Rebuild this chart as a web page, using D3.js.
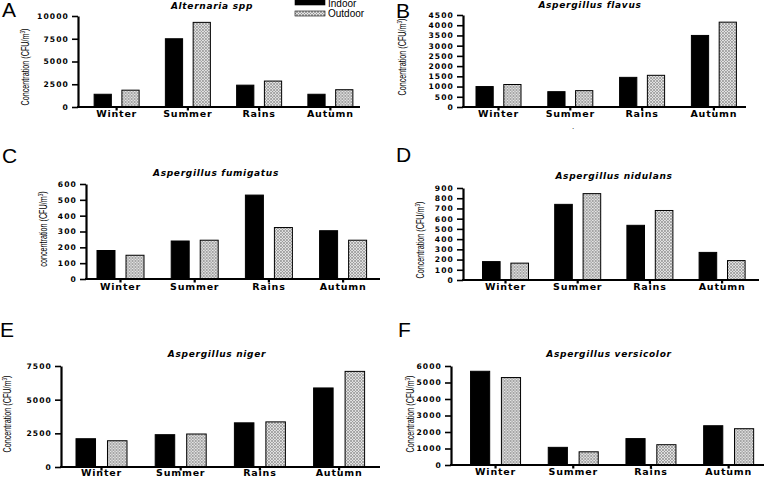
<!DOCTYPE html>
<html><head><meta charset="utf-8">
<script src="https://cdn.jsdelivr.net/npm/d3@7"></script>
<style>
html,body{margin:0;padding:0;background:#fff;}
svg{display:block;}
</style></head>
<body>
<svg id="chart" width="769" height="477"></svg>
<script>
const seasons = ["Winter", "Summer", "Rains", "Autumn"];
const seriesNames = ["Indoor", "Outdoor"];

const alternariaIndoor  = [1400, 7500, 2400, 1400];
const alternariaOutdoor = [1850, 9300, 2850, 1900];
const flavusIndoor      = [1000, 750, 1450, 3500];
const flavusOutdoor     = [1100, 800, 1550, 4150];
const fumigatusIndoor   = [180, 240, 530, 305];
const fumigatusOutdoor  = [150, 245, 325, 245];
const nidulansIndoor    = [180, 740, 535, 270];
const nidulansOutdoor   = [165, 845, 680, 190];
const nigerIndoor       = [2100, 2400, 3280, 5870];
const nigerOutdoor      = [1950, 2450, 3350, 7100];
const versicolorIndoor  = [5680, 1070, 1600, 2380];
const versicolorOutdoor = [5300, 800, 1230, 2200];

const ticksA = [0, 2500, 5000, 7500, 10000];
const ticksB = [0, 500, 1000, 1500, 2000, 2500, 3000, 3500, 4000, 4500];
const ticksC = [0, 100, 200, 300, 400, 500, 600];
const ticksD = [0, 100, 200, 300, 400, 500, 600, 700, 800, 900];
const ticksE = [0, 2500, 5000, 7500];
const ticksF = [0, 1000, 2000, 3000, 4000, 5000, 6000];

const titles = ["Alternaria spp", "Aspergillus flavus", "Aspergillus fumigatus",
                "Aspergillus nidulans", "Aspergillus niger", "Aspergillus versicolor"];
const letters = ["A", "B", "C", "D", "E", "F"];
const yLabels = ["Concentration (CFU/m", "Concentration (CFU/m", "concentration (CFU/m",
                 "Concentration (CFU/m", "Concentration (CFU/m", "Concentration (CFU/m"];

const panelData = [
  [alternariaIndoor, alternariaOutdoor, ticksA],
  [flavusIndoor, flavusOutdoor, ticksB],
  [fumigatusIndoor, fumigatusOutdoor, ticksC],
  [nidulansIndoor, nidulansOutdoor, ticksD],
  [nigerIndoor, nigerOutdoor, ticksE],
  [versicolorIndoor, versicolorOutdoor, ticksF]
];

// layout (positions only)
const layout = [
  {ax: 78, axEnd: 360, top: 16, bottom: 107, band: [81, 366], gw: 45, letter: [2, 17], title: [212, 9], ylab: [25, 67], xlabY: 117},
  {ax: 463, axEnd: 746, top: 15, bottom: 107, band: [462.6, 749.8], gw: 45, letter: [396, 18], title: [590, 8], ylab: [402, 57], xlabY: 117},
  {ax: 86, axEnd: 380, top: 184, bottom: 279, band: [83.4, 380.2], gw: 47, letter: [2, 163], title: [216, 176], ylab: [43, 229], xlabY: 290},
  {ax: 463, axEnd: 759, top: 188, bottom: 280, band: [469.4, 758.2], gw: 46, letter: [396, 162], title: [614, 179], ylab: [420, 240], xlabY: 290},
  {ax: 61, axEnd: 380, top: 366, bottom: 467, band: [61.9, 378.7], gw: 51, letter: [0, 337], title: [217, 357], ylab: [7, 414], xlabY: 476},
  {ax: 451, axEnd: 764, top: 366, bottom: 465, band: [456.7, 767.5], gw: 50, letter: [398, 337], title: [609, 357], ylab: [410, 414], xlabY: 475}
];

const svg = d3.select("#chart");
const defs = svg.append("defs");
const pat = defs.append("pattern").attr("id", "hatch")
  .attr("patternUnits", "userSpaceOnUse").attr("width", 3).attr("height", 3);
pat.append("rect").attr("width", 3).attr("height", 3).attr("fill", "#e4e4e4");
pat.append("path").attr("d", "M0,0 L3,3 M3,0 L0,3").attr("stroke", "#8a8a8a").attr("stroke-width", 0.7);

const fillFor = s => s === "Indoor" ? "#000" : "url(#hatch)";

panelData.forEach((pd, i) => {
  const [indoor, outdoor, ticks] = pd;
  const L = layout[i];
  const g = svg.append("g");
  const y = d3.scaleLinear().domain([0, d3.max(ticks)]).range([L.bottom, L.top]);
  const x = d3.scaleBand().domain(seasons).range(L.band).padding(0);
  const xi = d3.scaleBand().domain(seriesNames).range([-L.gw / 2, L.gw / 2]).paddingInner(0.38);

  const rows = seasons.map((s, k) => ({season: s, values: [
    {series: "Indoor", value: indoor[k]}, {series: "Outdoor", value: outdoor[k]}]}));

  const grp = g.selectAll("g.grp").data(rows).join("g")
    .attr("transform", d => `translate(${x(d.season) + x.bandwidth() / 2},0)`);
  grp.selectAll("rect").data(d => d.values).join("rect")
    .attr("x", d => xi(d.series))
    .attr("width", xi.bandwidth())
    .attr("y", d => y(d.value))
    .attr("height", d => y(0) - y(d.value))
    .attr("fill", d => fillFor(d.series))
    .attr("stroke", "#000").attr("stroke-width", 1);

  // y axis
  const yAxis = g.append("g").attr("transform", `translate(${L.ax},0)`)
    .call(d3.axisLeft(y).tickValues(ticks).tickSize(6).tickSizeOuter(0).tickPadding(3).tickFormat(d3.format("d")));
  yAxis.select(".domain").attr("stroke-width", 2.2);
  yAxis.selectAll(".tick line").attr("stroke-width", 1.6);
  yAxis.selectAll(".tick text").attr("font-family", "DejaVu Sans").attr("font-weight", "bold")
    .attr("font-size", 7.6).attr("letter-spacing", 1.1).attr("fill", "#000");

  // x axis
  g.append("line").attr("x1", L.ax - 1).attr("x2", L.axEnd).attr("y1", y(0)).attr("y2", y(0))
    .attr("stroke", "#000").attr("stroke-width", 2.2);
  const xAxis = g.append("g").attr("transform", `translate(0,${y(0)})`)
    .call(d3.axisBottom(x).tickSize(3.5).tickSizeOuter(0).tickPadding(0));
  xAxis.select(".domain").remove();
  xAxis.selectAll(".tick line").attr("stroke-width", 2.2);
  xAxis.selectAll(".tick text").attr("font-family", "DejaVu Sans").attr("font-weight", "bold")
    .attr("font-size", 9.5).attr("letter-spacing", 0.8).attr("fill", "#000")
    .attr("dy", null).attr("y", L.xlabY - L.bottom);

  // title
  g.append("text").attr("x", L.title[0]).attr("y", L.title[1]).attr("text-anchor", "middle")
    .attr("font-family", "DejaVu Sans").attr("font-weight", "bold").attr("font-style", "italic")
    .attr("font-size", 9).attr("letter-spacing", 0.7).text(titles[i]);

  // panel letter
  g.append("text").attr("x", L.letter[0]).attr("y", L.letter[1])
    .attr("font-family", "Liberation Sans, Arial, sans-serif").attr("font-size", 21).text(letters[i]);

  // y label
  const yl = g.append("text")
    .attr("transform", `translate(${L.ylab[0]},${L.ylab[1]}) rotate(-90) scale(0.72,1)`)
    .attr("text-anchor", "middle").attr("font-family", "Liberation Sans, Arial, sans-serif")
    .attr("font-size", 10).attr("dy", "0.35em");
  yl.append("tspan").text(yLabels[i]);
  yl.append("tspan").attr("font-size", 6.5).attr("dy", "-0.55em").text("3");
  yl.append("tspan").attr("dy", "0.35em").text(")");
});

// legend
const leg = svg.append("g");
seriesNames.forEach((s, k) => {
  leg.append("rect").attr("x", 295).attr("y", k === 0 ? 0 : 11).attr("width", 30).attr("height", 5)
    .attr("fill", fillFor(s)).attr("stroke", "#000").attr("stroke-width", 0.6);
  leg.append("text").attr("x", 328).attr("y", k === 0 ? 7 : 17)
    .attr("font-family", "Liberation Sans, Arial, sans-serif").attr("font-size", 10).text(s);
});
// stray dot under panel B
svg.append("text").attr("x", 572).attr("y", 129).attr("font-family", "Liberation Sans, Arial, sans-serif")
  .attr("font-size", 8).text(".");
</script>
</body></html>
